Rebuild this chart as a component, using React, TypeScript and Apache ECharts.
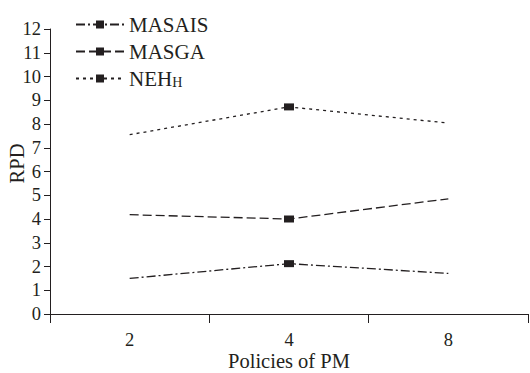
import React, { useEffect, useRef } from "react";
import * as echarts from "echarts";

const categories = ["2", "4", "8"];
const masais = [1.5, 2.12, 1.71];
const masga = [4.18, 4.0, 4.85];
const nehH = [7.55, 8.72, 8.04];
const markedIndex = [1];

const FONT = "Liberation Serif";
const INK = "#231f20";

function toData(values: number[]) {
  return values.map((v, i) => ({
    value: v,
    symbol: markedIndex.includes(i) ? "rect" : "none",
  }));
}

export default function App() {
  const ref = useRef<HTMLDivElement>(null);
  useEffect(() => {
    if (!ref.current) return;
    const chart = echarts.init(ref.current, undefined, { renderer: "svg" });
    const mk = (name: string, values: number[], type: any) => ({
      name,
      type: "line",
      data: toData(values),
      symbol: "rect",
      symbolSize: [10, 7],
      showAllSymbol: true,
      itemStyle: { color: INK },
      lineStyle: { color: INK, width: 1.3, type },
    });
    chart.setOption({
      animation: false,
      backgroundColor: "#fff",
      grid: {
        left: 50,
        right: 2,
        top: 29,
        bottom: 59,
        containLabel: false,
        outerBoundsMode: "none",
      },
      legend: {
        orient: "vertical",
        left: 70,
        top: 9,
        itemWidth: 48,
        itemHeight: 10,
        itemGap: 6,
        textStyle: {
          fontFamily: FONT,
          fontSize: 21,
          color: INK,
          lineHeight: 21,
          rich: {
            a: { fontFamily: FONT, fontSize: 21, color: INK, lineHeight: 21 },
            b: { fontFamily: FONT, fontSize: 14, color: INK, lineHeight: 14, verticalAlign: "bottom" },
          },
        },
        formatter: (name: string) => (name === "NEH_H" ? "{a|NEH}{b|H}" : name),
        data: ["MASAIS", "MASGA", "NEH_H"],
      },
      xAxis: {
        type: "category",
        data: categories,
        boundaryGap: true,
        name: "Policies of PM",
        nameLocation: "middle",
        nameGap: 36,
        nameMoveOverlap: false,
        nameTextStyle: { fontFamily: FONT, fontSize: 20.5, color: INK, lineHeight: 21 },
        axisLine: { lineStyle: { color: INK, width: 1 } },
        axisTick: { show: true, length: 9, lineStyle: { color: INK } },
        axisLabel: { fontFamily: FONT, fontSize: 18.5, color: INK, margin: 16, lineHeight: 19 },
        splitLine: { show: false },
      },
      yAxis: {
        type: "value",
        min: 0,
        max: 12,
        interval: 1,
        name: "RPD",
        nameLocation: "middle",
        nameGap: 23,
        nameMoveOverlap: false,
        nameTextStyle: { fontFamily: FONT, fontSize: 20.5, color: INK, padding: [0, 0, 0, 16] },
        axisLine: { show: true, lineStyle: { color: INK, width: 1 } },
        axisTick: { show: true, length: 6, lineStyle: { color: INK } },
        axisLabel: { fontFamily: FONT, fontSize: 18.5, color: INK, margin: 9 },
        splitLine: { show: false },
      },
      series: [
        mk("MASAIS", masais, [9, 3, 2, 3]),
        mk("MASGA", masga, [9, 4]),
        mk("NEH_H", nehH, [3, 4]),
      ],
    });
    return () => chart.dispose();
  }, []);
  return (
    <div
      ref={ref}
      style={{ position: "absolute", left: 0, top: 0, width: 530, height: 373 }}
    />
  );
}
